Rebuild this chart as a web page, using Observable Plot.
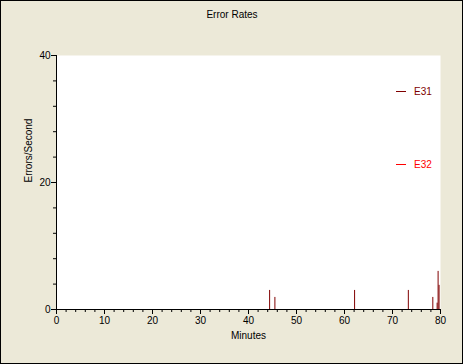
<!DOCTYPE html>
<html>
<head>
<meta charset="utf-8">
<script src="https://cdn.jsdelivr.net/npm/d3@7"></script>
<script src="https://cdn.jsdelivr.net/npm/@observablehq/plot@0.6"></script>
<style>
  html, body { margin: 0; padding: 0; background: #ECE9D8; }
  #wrap { position: relative; width: 463px; height: 364px; }
  #wrap svg { display: block; }
  #border { position: absolute; left: 0; top: 0; width: 461px; height: 362px; border: 1px solid #000; pointer-events: none; }
  .leg { position: absolute; font: 10px "Liberation Sans", Arial, sans-serif; line-height: 12px; }
  .leg span.ln { display: inline-block; width: 10px; height: 0; border-top: 1px solid; vertical-align: middle; margin-right: 8px; position: relative; top: -1px; }
</style>
</head>
<body>
<div id="wrap"></div>
<script>
const title = "Error Rates";
const xLabel = "Minutes";
const yLabel = "Errors/Second";
const seriesNames = ["E31", "E32"];
const seriesColors = ["#800000", "#FF0000"];
const xMajorTicks = [0, 10, 20, 30, 40, 50, 60, 70, 80];
const yMajorTicks = [0, 20, 40];
const xMinorTicks = [2,4,6,8,12,14,16,18,22,24,26,28,32,34,36,38,42,44,46,48,52,54,56,58,62,64,66,68,72,74,76,78];
const yMinorTicks = [4, 8, 12, 16, 24, 28, 32, 36];
const e31Minutes = [44.4, 45.5, 62.1, 73.3, 78.4, 79.3, 79.5, 79.7];
const e31Values  = [3.0, 1.9, 3.0, 3.0, 1.9, 1.0, 6.0, 3.8];
const e32Minutes = [];
const e32Values  = [];

const data = [
  ...e31Minutes.map((m, i) => ({series: "E31", minute: m, value: e31Values[i]})),
  ...e32Minutes.map((m, i) => ({series: "E32", minute: m, value: e32Values[i]}))
];

const font = "Liberation Sans, Arial, sans-serif";

const chart = Plot.plot({
  width: 463,
  height: 364,
  marginLeft: 56,
  marginRight: 23,
  marginTop: 55,
  marginBottom: 55,
  style: {background: "#ECE9D8", fontFamily: font, fontSize: "10px", color: "#000"},
  x: {domain: [0, 80]},
  y: {domain: [0, 40]},
  color: {domain: seriesNames, range: seriesColors},
  marks: [
    Plot.frame({fill: "white", stroke: null}),
    Plot.ruleX(data, {x: "minute", y1: 0, y2: "value", stroke: d => d.series, strokeWidth: 1}),
    Plot.axisX({ticks: xMajorTicks, tickSize: 5, tickPadding: 2, label: null, stroke: "#000", fill: "#000", fontSize: 10}),
    Plot.axisX({ticks: xMinorTicks, tickSize: 3, tickFormat: () => "", label: null, stroke: "#000"}),
    Plot.axisY({ticks: yMajorTicks, tickSize: 5, tickPadding: 1, label: null, stroke: "#000", fill: "#000", fontSize: 10}),
    Plot.axisY({ticks: yMinorTicks, tickSize: 3, tickFormat: () => "", label: null, stroke: "#000"}),
    Plot.ruleY([0], {stroke: "#000"}),
    Plot.ruleX([0], {stroke: "#000"}),
    Plot.text([title], {frameAnchor: "top", dx: -16.5, dy: -45, fill: "#000", fontSize: 10}),
    Plot.text([xLabel], {frameAnchor: "bottom", dy: 29, fill: "#000", fontSize: 10}),
    Plot.text([yLabel], {frameAnchor: "left", dx: -28, rotate: -90, fill: "#000", fontSize: 10})
  ]
});

const wrap = document.getElementById("wrap");
wrap.appendChild(chart);
const legTops = [86, 159];
seriesNames.forEach((name, i) => {
  const d = document.createElement("div");
  d.className = "leg";
  d.style.left = "396px";
  d.style.top = legTops[i] + "px";
  d.style.color = seriesColors[i];
  d.innerHTML = `<span class="ln" style="border-color:${seriesColors[i]}"></span>${name}`;
  wrap.appendChild(d);
});
const b = document.createElement("div");
b.id = "border";
wrap.appendChild(b);
</script>
</body>
</html>
